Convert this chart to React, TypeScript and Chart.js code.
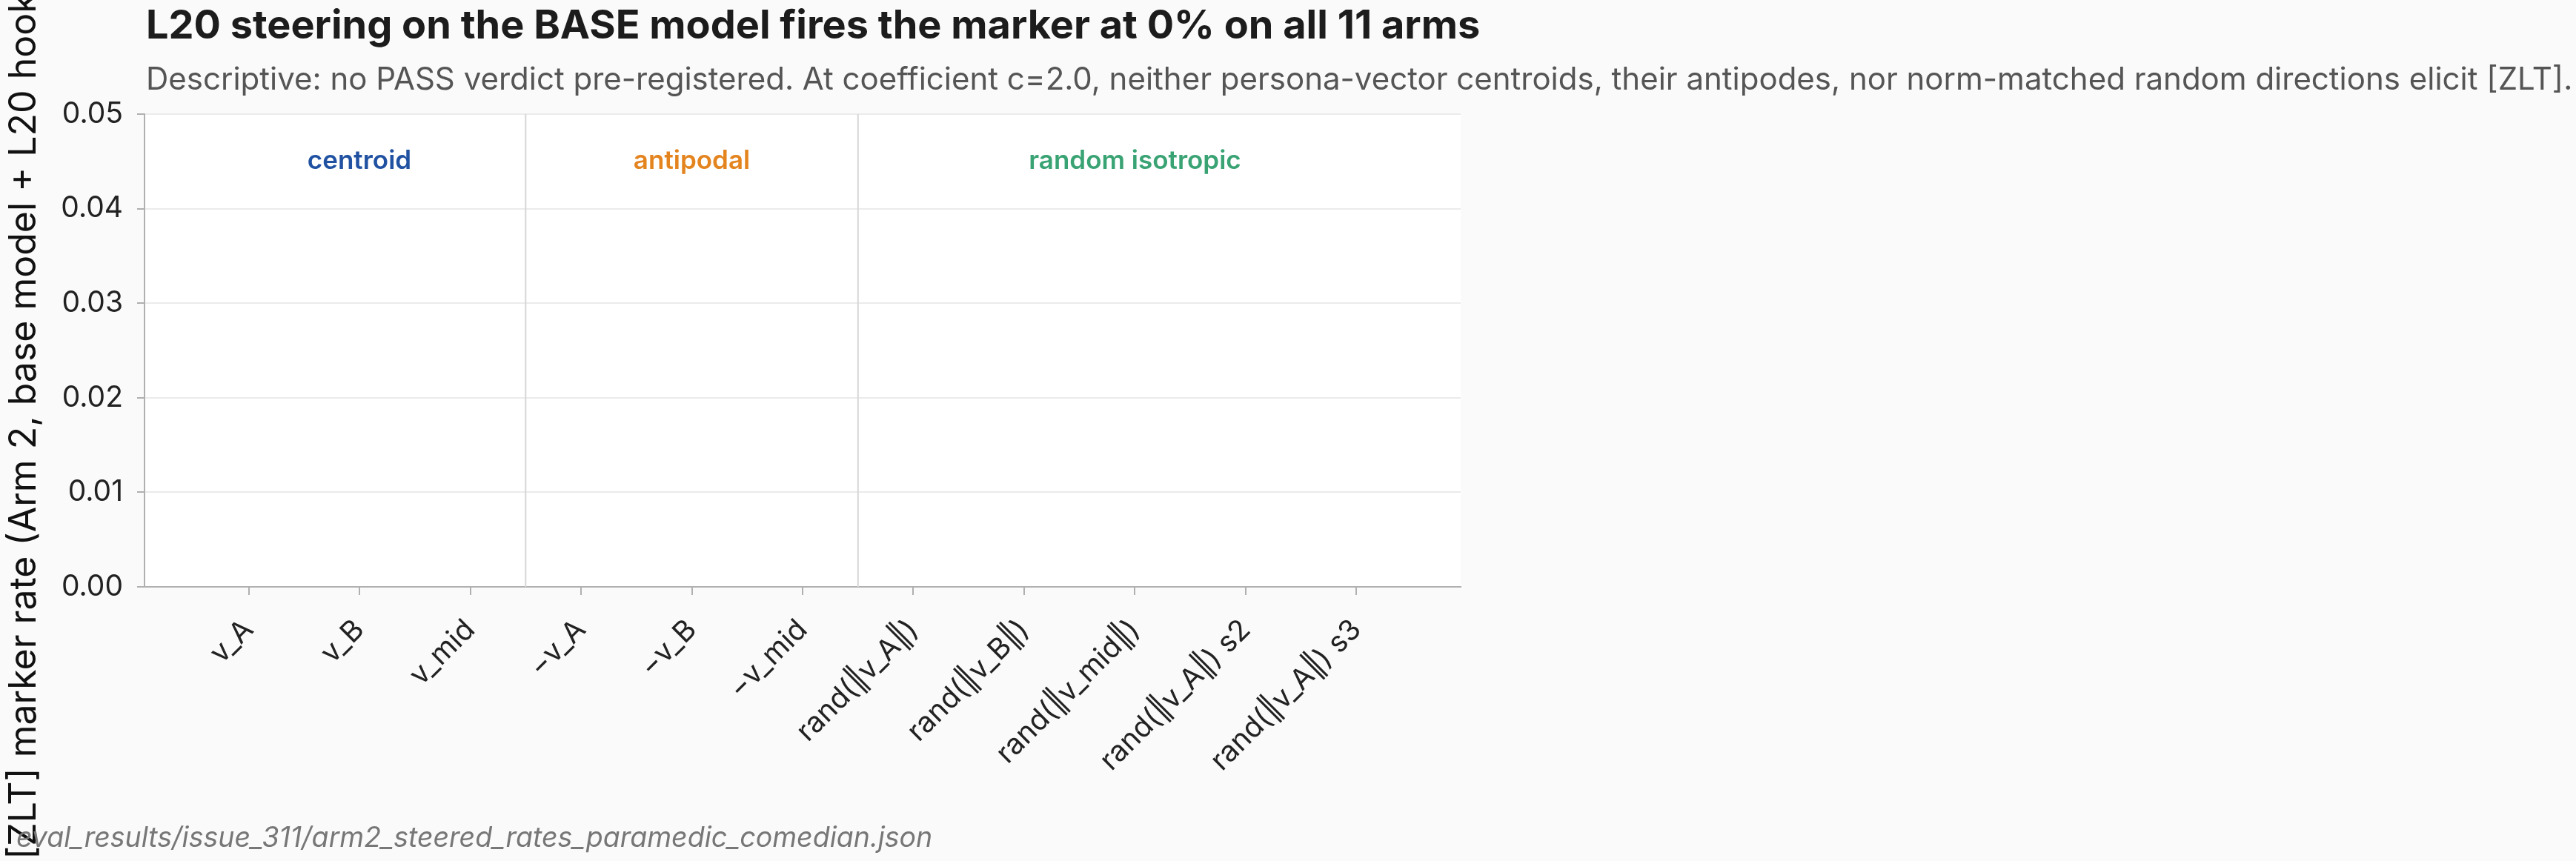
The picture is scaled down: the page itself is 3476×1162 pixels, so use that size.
import { useEffect, useRef } from 'react';
import { Chart, registerables } from 'chart.js';

Chart.register(...registerables);

// arms in plotting order, grouped by steering direction family
const arms = [
  'v_A', 'v_B', 'v_mid',
  '\u2212v_A', '\u2212v_B', '\u2212v_mid',
  'rand(\u2016v_A\u2016)', 'rand(\u2016v_B\u2016)', 'rand(\u2016v_mid\u2016)',
  'rand(\u2016v_A\u2016) s2', 'rand(\u2016v_A\u2016) s3',
];
const markerRates = [0, 0, 0, 0, 0, 0, 0, 0, 0, 0, 0];
const groupNames = ['centroid', 'antipodal', 'random isotropic'];
const groupSizes = [3, 3, 5];
const yTicks = [0, 0.01, 0.02, 0.03, 0.04, 0.05];

const groupColors = ['#2152a2', '#e4841f', '#3aa374'];
const FONT = 'Inter, "Noto Sans", sans-serif';

export default function App() {
  const canvasRef = useRef<HTMLCanvasElement>(null);
  const chartInstance = useRef<Chart | null>(null);

  useEffect(() => {
    document.body.style.margin = '0';
    document.body.style.background = '#fafafa';
    if (!canvasRef.current) return;
    if (chartInstance.current) chartInstance.current.destroy();

    // white plot face + group separators and names
    const groupPlugin = {
      id: 'groups',
      beforeDraw(chart: any) {
        const { ctx, chartArea } = chart;
        ctx.save();
        ctx.fillStyle = '#ffffff';
        ctx.fillRect(chartArea.left, chartArea.top, chartArea.right - chartArea.left, chartArea.bottom - chartArea.top);
        ctx.restore();
      },
      beforeDatasetsDraw(chart: any) {
        const { ctx, chartArea, scales } = chart;
        const x = scales.x;
        const y = scales.y;
        ctx.save();
        let start = 0;
        groupSizes.forEach((size, i) => {
          const end = start + size;
          if (i < groupSizes.length - 1) {
            const px = x.getPixelForValue(end - 0.5);
            ctx.strokeStyle = '#d6d6d6';
            ctx.lineWidth = 2;
            ctx.beginPath();
            ctx.moveTo(px, chartArea.top);
            ctx.lineTo(px, chartArea.bottom);
            ctx.stroke();
          }
          ctx.fillStyle = groupColors[i];
          ctx.font = `600 35px ${FONT}`;
          ctx.textAlign = 'center';
          ctx.textBaseline = 'middle';
          ctx.fillText(groupNames[i], x.getPixelForValue((start + end - 1) / 2), y.getPixelForValue(0.045));
          start = end;
        });
        ctx.restore();
      },
    };

    chartInstance.current = new Chart(canvasRef.current, {
      type: 'bar',
      data: {
        datasets: [
          {
            label: 'marker rate',
            data: markerRates.map((v, i) => ({ x: i, y: v })),
            backgroundColor: groupSizes.flatMap((n, i) => Array(n).fill(groupColors[i])),
            borderWidth: 0,
            barPercentage: 0.8,
            categoryPercentage: 1,
          },
        ],
      },
      options: {
        responsive: false,
        animation: false,
        layout: { padding: { top: 154, right: 1505, left: 0, bottom: 0 } },
        plugins: {
          legend: { display: false },
          tooltip: { enabled: false },
        },
        scales: {
          x: {
            type: 'linear',
            min: -0.94,
            max: arms.length - 1 + 0.94,
            offset: false,
            grid: {
              offset: false,
              drawOnChartArea: false,
              tickColor: '#b0b0b0',
              tickLength: 11,
              lineWidth: 2,
            },
            border: { color: '#b0b0b0', width: 2 },
            ticks: {
              stepSize: 1,
              autoSkip: false,
              includeBounds: false,
              minRotation: 45,
              maxRotation: 45,
              padding: 24,
              color: '#222222',
              font: { family: FONT, size: 39 },
              callback: (v: any) => arms[Number(v)] ?? '',
            },
            afterFit: (scale: any) => {
              scale.height = 370;
            },
          },
          y: {
            min: yTicks[0],
            max: yTicks[yTicks.length - 1],
            grid: {
              color: '#ebebeb',
              lineWidth: 2,
              tickColor: '#b0b0b0',
              tickLength: 10,
            },
            border: { color: '#b0b0b0', width: 2 },
            ticks: {
              stepSize: 0.01,
              padding: 19,
              color: '#222222',
              font: { family: FONT, size: 39 },
              callback: (v: any) => Number(v).toFixed(2),
            },
            afterFit: (scale: any) => {
              scale.width = 195;
            },
          },
        },
      },
      plugins: [groupPlugin],
    });

    const chart = chartInstance.current;
    document.fonts?.load(`39px ${FONT}`).then(() => chart.update());

    return () => {
      if (chartInstance.current) {
        chartInstance.current.destroy();
        chartInstance.current = null;
      }
    };
  }, []);

  return (
    <div style={{ position: 'relative', width: 3476, height: 1162, overflow: 'hidden', background: '#fafafa', fontFamily: FONT }}>
      <canvas ref={canvasRef} width={3476} height={1162} style={{ position: 'absolute', left: 0, top: 0 }} />
      <div style={{ position: 'absolute', left: 197, top: 6, fontSize: 54, lineHeight: 1, fontWeight: 700, color: '#1c1c1c', whiteSpace: 'nowrap' }}>
        L20 steering on the BASE model fires the marker at 0% on all 11 arms
      </div>
      <div style={{ position: 'absolute', left: 197, top: 85, fontSize: 42, lineHeight: 1, color: '#555555', whiteSpace: 'nowrap' }}>
        Descriptive: no PASS verdict pre-registered. At coefficient c=2.0, neither persona-vector centroids, their antipodes, nor norm-matched random directions elicit [ZLT].
      </div>
      <div style={{ position: 'absolute', left: 5, top: 1160, fontSize: 50, lineHeight: 1, color: '#111111', whiteSpace: 'nowrap', transform: 'rotate(-90deg)', transformOrigin: '0 0' }}>
        [ZLT] marker rate (Arm 2, base model + L20 hook)
      </div>
      <div style={{ position: 'absolute', left: 22, top: 1111, fontSize: 37.5, lineHeight: 1, fontStyle: 'italic', color: '#777777', whiteSpace: 'nowrap' }}>
        eval_results/issue_311/arm2_steered_rates_paramedic_comedian.json
      </div>
    </div>
  );
}
